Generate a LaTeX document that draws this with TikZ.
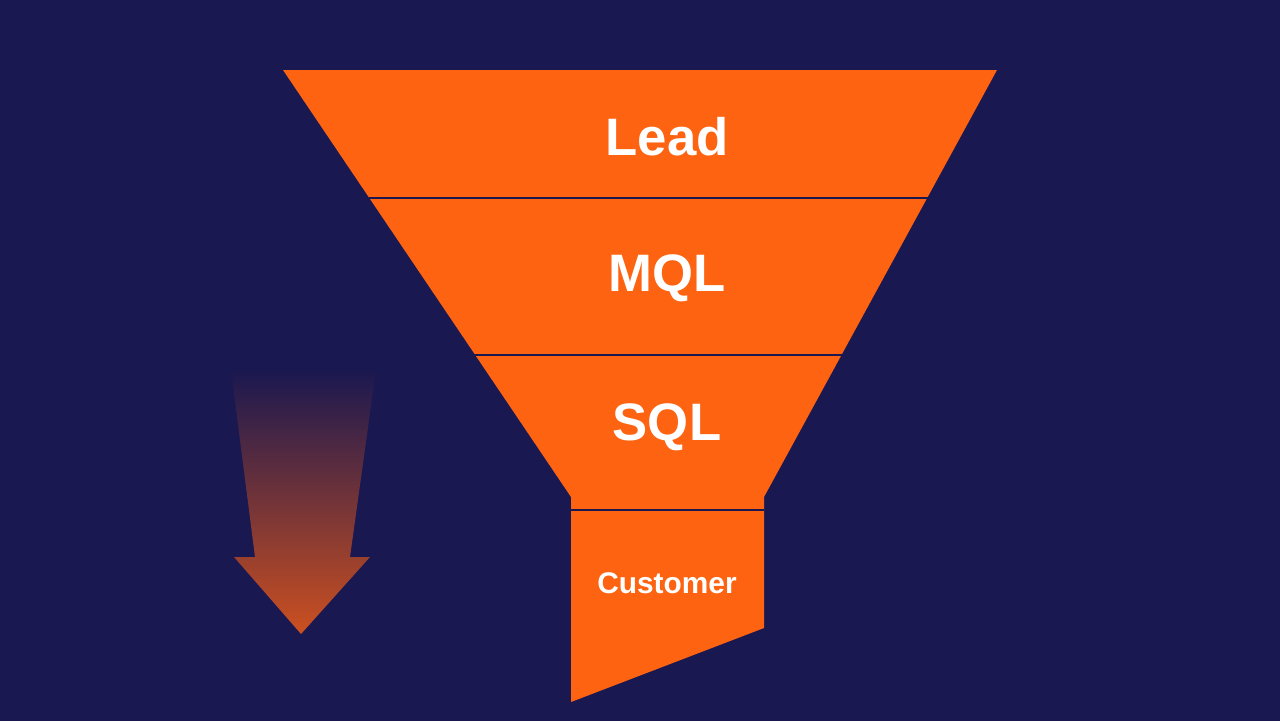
\documentclass[tikz,border=0pt]{standalone}
\usepackage{fontspec}
\setmainfont{Liberation Sans}
\usetikzlibrary{positioning}
\definecolor{bgblue}{HTML}{1A1850}
\definecolor{funnelorange}{HTML}{FD6310}
\definecolor{arroworange}{HTML}{CC5020}
\tikzset{
  stage/.style={fill=funnelorange, draw=none},
  divider/.style={draw=bgblue, line width=0.6pt},
  stagelabel/.style={text=white, font=\bfseries\fontsize{30}{30}\selectfont},
}
\begin{document}
\begin{tikzpicture}[x=0.02cm, y=-0.02cm]
    \fill[bgblue] (0,0) rectangle (1280,721);
    \useasboundingbox (0,0) rectangle (1280,721);

    % funnel body
    \fill[stage] (283,70) -- (997,70) -- (764,497) -- (764,628) -- (571,702) -- (571,497) -- cycle;
    \draw[divider] (369,198) -- (928,198);
    \draw[divider] (474,355) -- (843,355);
    \draw[divider] (571,510) -- (764,510);

    % stage labels
    \node[stagelabel] (lead) at (667,137) {Lead};
    \node[stagelabel] (mql) at (667,278) {MQL};
    \node[stagelabel] (sql) at (667,427) {SQL};
    \node[text=white, font=\bfseries\fontsize{17}{17}\selectfont] (customer) at (667,583) {Customer};

    % direction arrow
    \shade[top color=bgblue, bottom color=arroworange, shading angle=0]
        (231,370) -- (376,370) -- (350,557) -- (370,557) -- (301,634) -- (234,557) -- (255,557) -- cycle;
\end{tikzpicture}
\end{document}
